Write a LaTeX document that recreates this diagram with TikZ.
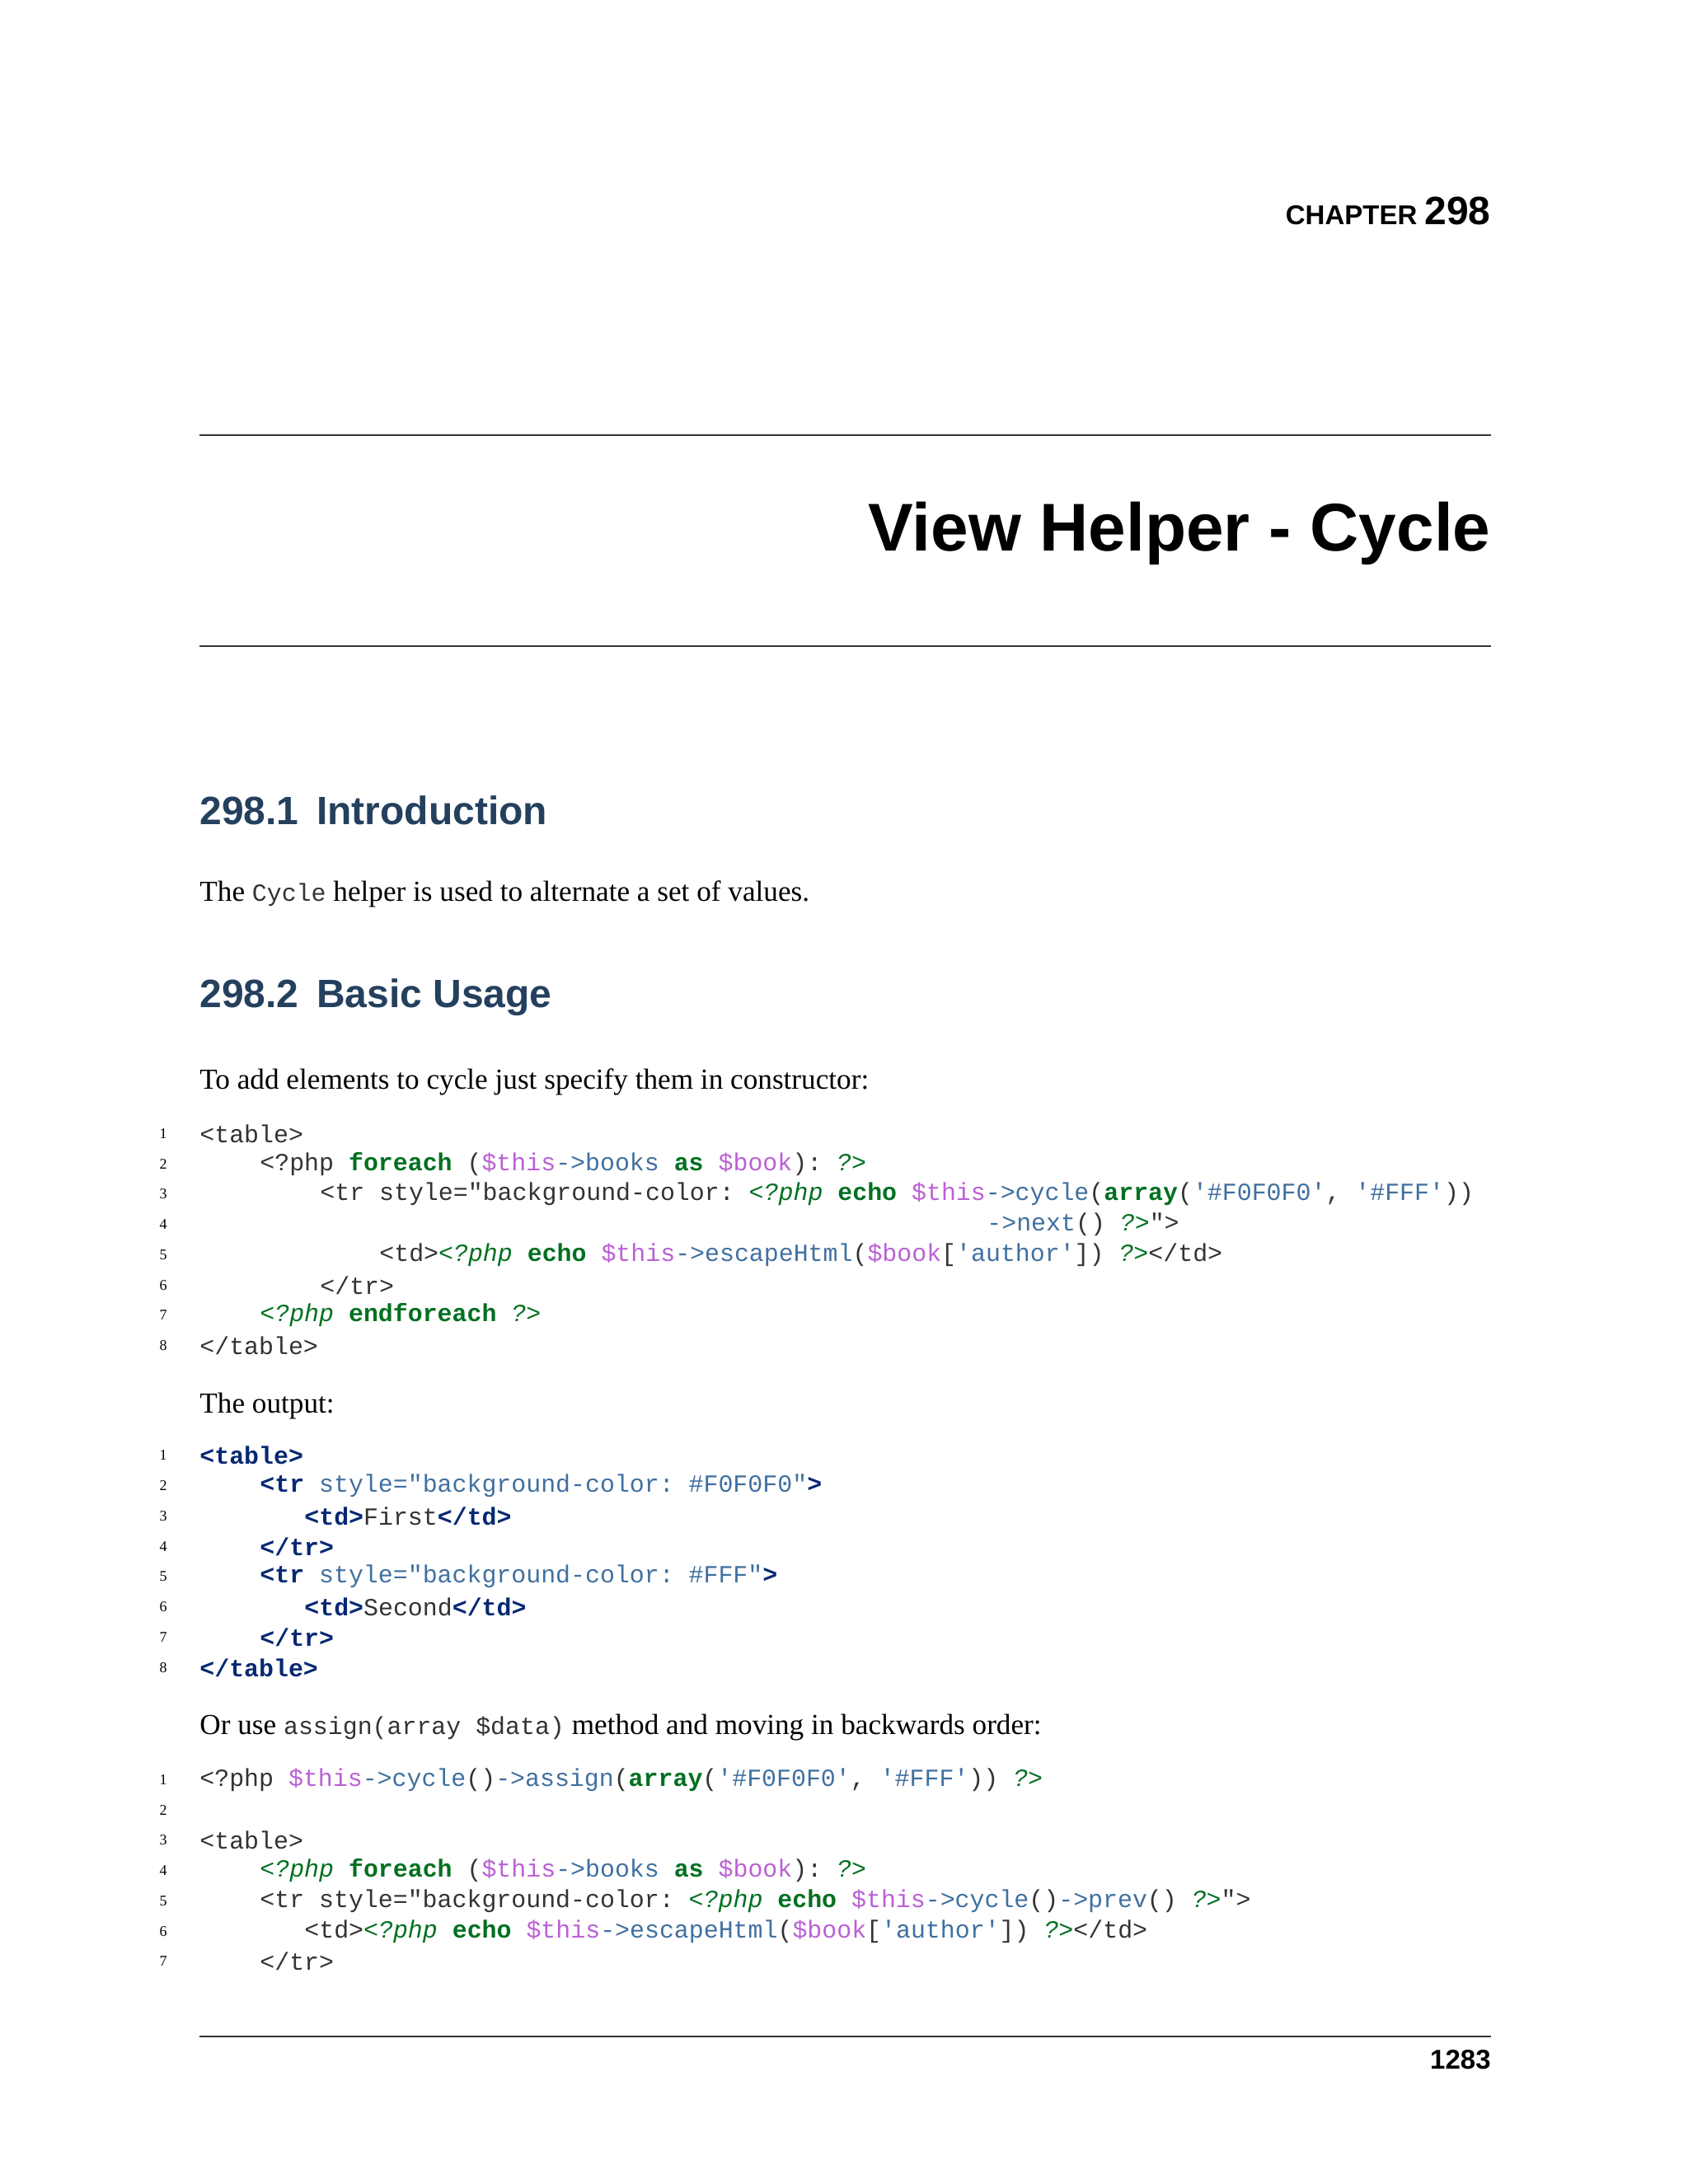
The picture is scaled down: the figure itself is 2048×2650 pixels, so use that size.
\documentclass[tikz,border=0pt]{standalone}
\usepackage{fontspec}
\setmainfont{Liberation Serif}
\setsansfont{Liberation Sans}
\setmonofont{Liberation Mono}
\definecolor{hd}{RGB}{36,64,94}
\definecolor{plain}{RGB}{51,51,51}
\definecolor{kwg}{RGB}{0,112,32}
\definecolor{vrc}{RGB}{187,96,213}
\definecolor{atc}{RGB}{64,112,160}
\definecolor{tgc}{RGB}{6,40,115}
\newcommand\kw[1]{\textcolor{kwg}{\bfseries #1}}
\newcommand\vr[1]{\textcolor{vrc}{#1}}
\newcommand\at[1]{\textcolor{atc}{#1}}
\newcommand\st[1]{\textcolor{atc}{#1}}
\newcommand\pt[1]{\textcolor{kwg}{\itshape #1}}
\newcommand\tg[1]{\textcolor{tgc}{\bfseries #1}}
\tikzset{
 code/.style={anchor=west,inner sep=0pt,font=\fontsize{14.95}{18}\ttfamily,text=plain},
 lno/.style={anchor=center,inner sep=0pt,font=\fontsize{9}{11}\selectfont},
 body/.style={anchor=west,inner sep=0pt,font=\fontsize{17.6}{21}\selectfont},
 head/.style={anchor=west,inner sep=0pt,font=\fontsize{24}{28}\sffamily\bfseries,text=hd},
 rule/.style={line width=0.6pt,black!80}
}
\begin{document}
\begin{tikzpicture}[x=0.5pt,y=-0.5pt]
\useasboundingbox (0,0) rectangle (2048,2650);
\fill[white] (0,0) rectangle (2048,2650);
% header
\node[anchor=base east,inner sep=0pt,font=\sffamily\bfseries] (chap) at (1809,272) {\fontsize{16.5}{19}\selectfont CHAPTER \fontsize{24}{28}\selectfont 298};
\draw[rule] (242,528) coordinate (r1a) -- (1809,528) coordinate (r1b);
\node[anchor=base east,inner sep=0pt,font=\fontsize{41}{48}\sffamily\bfseries] (title) at (1809,668) {View Helper - Cycle};
\draw[rule] (242,784) coordinate (r2a) -- (1809,784) coordinate (r2b);
\node[head] (h1) at (242,983) {298.1\hspace{0.45em}Introduction};
\node[body] (p1) at (242,1085) {The \textcolor{plain}{\fontsize{14.95}{18}\ttfamily Cycle} helper is used to alternate a set of values.};
\node[head] (h2) at (242,1210) {298.2\hspace{0.45em}Basic Usage};
\node[body] (p2) at (242,1313) {To add elements to cycle just specify them in constructor:};
% block 1
\foreach \i/\y in {1/1376,2/1413,3/1449,4/1486,5/1523,6/1560,7/1596,8/1633}{\node[lno] (a\i) at (198,\y) {\i};}
\node[code] (c11) at (242,1376) {<table>};
\node[code] (c12) at (315,1413) {<?php \kw{foreach} (\vr{\$this}\at{->books} \kw{as} \vr{\$book}): \pt{?>}};
\node[code] (c13) at (388,1449) {<tr style="background-color: \pt{<?php} \kw{echo} \vr{\$this}\at{->cycle}(\kw{array}(\st{'\#F0F0F0'}, \st{'\#FFF'}))};
\node[code] (c14) at (1197,1486) {\at{->next}() \pt{?>}">};
\node[code] (c15) at (460,1523) {<td>\pt{<?php} \kw{echo} \vr{\$this}\at{->escapeHtml}(\vr{\$book}[\st{'author'}]) \pt{?>}</td>};
\node[code] (c16) at (388,1560) {</tr>};
\node[code] (c17) at (315,1596) {\pt{<?php} \kw{endforeach} \pt{?>}};
\node[code] (c18) at (242,1633) {</table>};
\node[body] (p3) at (242,1706) {The output:};
% block 2
\foreach \i/\y in {1/1766,2/1803,3/1840,4/1877,5/1913,6/1950,7/1987,8/2024}{\node[lno] (b\i) at (198,\y) {\i};}
\node[code] (c21) at (242,1766) {\tg{<table>}};
\node[code] (c22) at (315,1803) {\tg{<tr} \at{style="background-color: \#F0F0F0"}\tg{>}};
\node[code] (c23) at (369,1840) {\tg{<td>}First\tg{</td>}};
\node[code] (c24) at (315,1877) {\tg{</tr>}};
\node[code] (c25) at (315,1913) {\tg{<tr} \at{style="background-color: \#FFF"}\tg{>}};
\node[code] (c26) at (369,1950) {\tg{<td>}Second\tg{</td>}};
\node[code] (c27) at (315,1987) {\tg{</tr>}};
\node[code] (c28) at (242,2024) {\tg{</table>}};
\node[body] (p4) at (242,2096) {Or use \textcolor{plain}{\fontsize{14.95}{18}\ttfamily assign(array \$data)} method and moving in backwards order:};
% block 3
\foreach \i/\y in {1/2160,2/2197,3/2233,4/2270,5/2307,6/2344,7/2380}{\node[lno] (d\i) at (198,\y) {\i};}
\node[code] (c31) at (242,2160) {<?php \vr{\$this}\at{->cycle}()\at{->assign}(\kw{array}(\st{'\#F0F0F0'}, \st{'\#FFF'})) \pt{?>}};
\node[code] (c33) at (242,2233) {<table>};
\node[code] (c34) at (315,2270) {\pt{<?php} \kw{foreach} (\vr{\$this}\at{->books} \kw{as} \vr{\$book}): \pt{?>}};
\node[code] (c35) at (315,2307) {<tr style="background-color: \pt{<?php} \kw{echo} \vr{\$this}\at{->cycle}()\at{->prev}() \pt{?>}">};
\node[code] (c36) at (369,2344) {<td>\pt{<?php} \kw{echo} \vr{\$this}\at{->escapeHtml}(\vr{\$book}[\st{'author'}]) \pt{?>}</td>};
\node[code] (c37) at (315,2380) {</tr>};
% footer
\draw[rule] (242,2471) coordinate (r3a) -- (1809,2471) coordinate (r3b);
\node[anchor=base east,inner sep=0pt,font=\fontsize{16.5}{19}\sffamily\bfseries] (pg) at (1809,2510) {1283};
\end{tikzpicture}
\end{document}
